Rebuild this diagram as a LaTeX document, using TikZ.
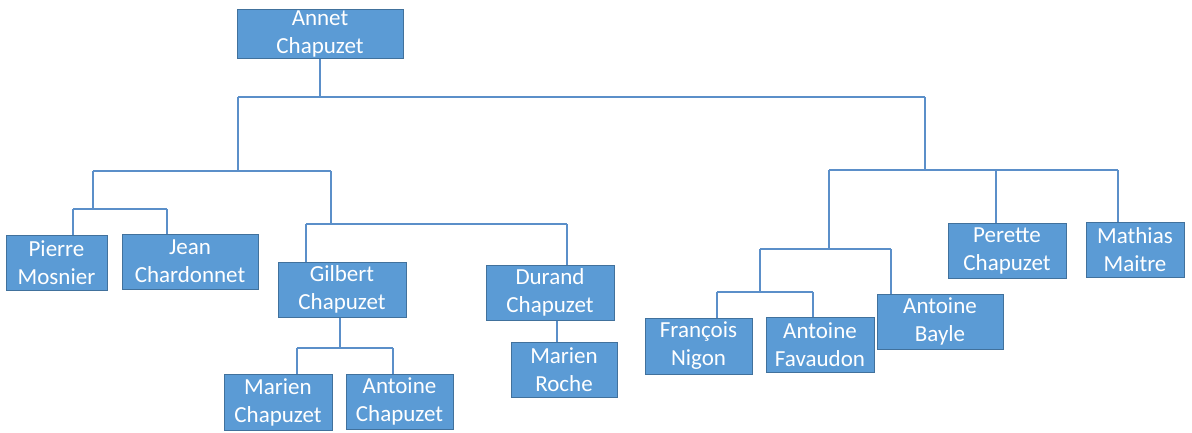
\documentclass[tikz,border=0pt]{standalone}
\usepackage{fontspec}
\setmainfont{Carlito}
\definecolor{boxblue}{HTML}{5B9BD5}
\definecolor{boxedge}{HTML}{41719C}
\definecolor{linkblue}{HTML}{5B8FC9}

\begin{document}
\begin{tikzpicture}[x=1pt, y=-1pt,
  person/.style={draw=boxedge, fill=boxblue, line width=1pt, text=white,
    align=center, inner sep=0pt, minimum height=55pt,
    font=\fontsize{23}{28}\selectfont},
  link/.style={draw=linkblue, line width=1.1pt}]
  \useasboundingbox (0,0) rectangle (1192,432);

  % people
  \node[person, minimum width=166pt, minimum height=49pt] (annet) at (320,33.5) {Annet\\Chapuzet};
  \node[person, minimum width=101pt] (pierre) at (56.5,262.5) {Pierre\\Mosnier};
  \node[person, minimum width=136pt] (jean) at (190,261.5) {Jean\\Chardonnet};
  \node[person, minimum width=128pt] (gilbert) at (342,289.5) {Gilbert\\Chapuzet};
  \node[person, minimum width=128pt] (durand) at (550,292.5) {Durand\\Chapuzet};
  \node[person, minimum width=106pt] (mroche) at (564,369.5) {Marien\\Roche};
  \node[person, minimum width=108pt, minimum height=56pt] (mchap) at (278,402) {Marien\\Chapuzet};
  \node[person, minimum width=107pt] (achap) at (399.5,401.5) {Antoine\\Chapuzet};
  \node[person, minimum width=107pt, minimum height=56pt] (francois) at (698.5,346) {François\\Nigon};
  \node[person, minimum width=108pt] (favaudon) at (820,344.5) {Antoine\\Favaudon};
  \node[person, minimum width=126pt] (bayle) at (940,321.5) {Antoine\\Bayle};
  \node[person, minimum width=118pt] (perette) at (1007,250.5) {Perette\\Chapuzet};
  \node[person, minimum width=98pt] (mathias) at (1135,249.5) {Mathias\\Maitre};

  % junction points
  \coordinate (r1) at (238,97);
  \coordinate (r2) at (925,97);
  \coordinate (l1) at (93,171);
  \coordinate (l2) at (331,171);
  \coordinate (p1) at (73,209);
  \coordinate (p2) at (167,209);
  \coordinate (g1) at (306,224);
  \coordinate (g2) at (567,224);
  \coordinate (c0) at (340,348);
  \coordinate (c1) at (297,348);
  \coordinate (c2) at (393,348);
  \coordinate (dr) at (557,331);
  \coordinate (s1) at (829,170);
  \coordinate (s2) at (1118,170);
  \coordinate (s3) at (996,170);
  \coordinate (t1) at (760,249);
  \coordinate (t2) at (891,249);
  \coordinate (u1) at (717,292);
  \coordinate (u2) at (813,292);

  % top level
  \draw[link] (annet.south) -- (annet.south |- r1);
  \draw[link] (r1) -- (r2);

  % left branch
  \draw[link] (r1) -- (r1 |- l1);
  \draw[link] (l1) -- (l2);
  \draw[link] (l1) -- (l1 |- p1);
  \draw[link] (p1) -- (p2);
  \draw[link] (p1) -- (p1 |- pierre.north);
  \draw[link] (p2) -- (p2 |- jean.north);
  \draw[link] (l2) -- (l2 |- g1);
  \draw[link] (g1) -- (g2);
  \draw[link] (g1) -- (g1 |- gilbert.north);
  \draw[link] (g2) -- (g2 |- durand.north);
  \draw[link] (c0 |- gilbert.south) -- (c0);
  \draw[link] (c1) -- (c2);
  \draw[link] (c1) -- (c1 |- mchap.north);
  \draw[link] (c2) -- (c2 |- achap.north);
  \draw[link] (dr |- durand.south) -- (dr |- mroche.north);

  % right branch
  \draw[link] (r2) -- (r2 |- s1);
  \draw[link] (s1) -- (s2);
  \draw[link] (s3) -- (s3 |- perette.north);
  \draw[link] (s2) -- (s2 |- mathias.north);
  \draw[link] (s1) -- (s1 |- t1);
  \draw[link] (t1) -- (t2);
  \draw[link] (t2) -- (t2 |- bayle.north);
  \draw[link] (t1) -- (t1 |- u1);
  \draw[link] (u1) -- (u2);
  \draw[link] (u1) -- (u1 |- francois.north);
  \draw[link] (u2) -- (u2 |- favaudon.north);
\end{tikzpicture}
\end{document}
